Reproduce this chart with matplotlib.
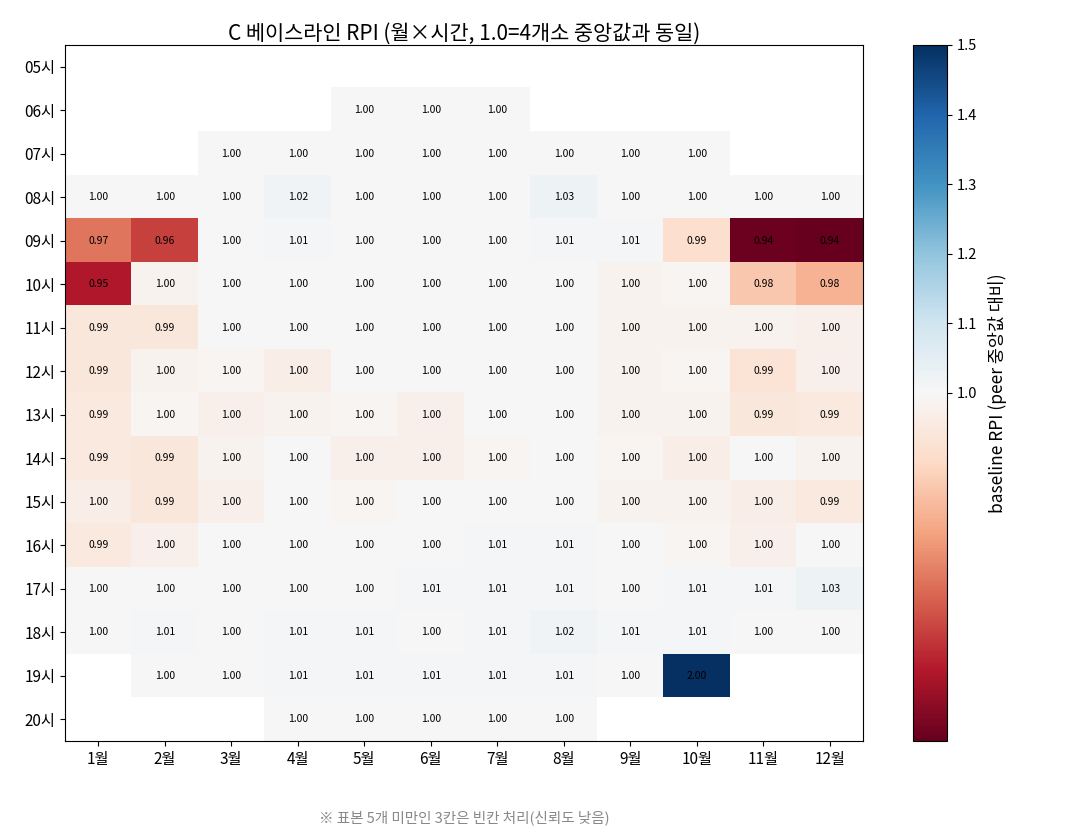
import numpy as np
import matplotlib
matplotlib.use("Agg")
import matplotlib.pyplot as plt
from matplotlib.colors import TwoSlopeNorm

plt.rcParams['font.family'] = ['Noto Sans CJK KR', 'DejaVu Sans']
plt.rcParams['axes.unicode_minus'] = False

months = ["1월", "2월", "3월", "4월", "5월", "6월", "7월", "8월", "9월", "10월", "11월", "12월"]
hours = ["05시", "06시", "07시", "08시", "09시", "10시", "11시", "12시",
         "13시", "14시", "15시", "16시", "17시", "18시", "19시", "20시"]

n = np.nan
h05 = [n, n, n, n, n, n, n, n, n, n, n, n]
h06 = [n, n, n, n, 1.000, 1.000, 1.000, n, n, n, n, n]
h07 = [n, n, 1.000, 1.000, 1.000, 1.000, 1.000, 1.000, 1.000, 1.000, n, n]
h08 = [1.000, 1.000, 1.000, 1.018, 1.000, 1.000, 1.001, 1.026, 1.000, 1.000, 1.000, 1.000]
h09 = [0.968, 0.959, 1.000, 1.006, 1.000, 1.000, 1.001, 1.006, 1.006, 0.990, 0.941, 0.940]
h10 = [0.952, 0.998, 1.000, 1.000, 1.000, 1.000, 1.000, 1.000, 0.998, 0.999, 0.984, 0.979]
h11 = [0.993, 0.993, 1.000, 1.000, 1.000, 1.000, 1.000, 1.000, 0.998, 0.998, 0.998, 0.997]
h12 = [0.993, 0.998, 0.999, 0.996, 1.000, 1.000, 1.000, 1.002, 0.998, 0.999, 0.992, 0.997]
h13 = [0.994, 0.999, 0.997, 0.998, 0.999, 0.997, 1.000, 1.000, 0.998, 0.998, 0.993, 0.994]
h14 = [0.994, 0.993, 0.998, 1.000, 0.997, 0.997, 0.999, 1.000, 0.999, 0.996, 1.000, 0.998]
h15 = [0.996, 0.993, 0.997, 1.000, 0.999, 1.000, 1.000, 1.000, 0.998, 0.998, 0.996, 0.994]
h16 = [0.994, 0.997, 1.000, 1.000, 1.001, 1.001, 1.006, 1.006, 1.000, 0.999, 0.997, 1.000]
h17 = [1.001, 1.000, 1.000, 1.000, 1.001, 1.006, 1.006, 1.007, 1.000, 1.006, 1.006, 1.026]
h18 = [1.001, 1.006, 1.000, 1.006, 1.006, 1.003, 1.006, 1.016, 1.006, 1.008, 1.000, 1.000]
h19 = [n, 1.000, 1.000, 1.006, 1.007, 1.009, 1.008, 1.007, 1.000, 2.000, n, n]
h20 = [n, n, n, 1.000, 1.000, 1.000, 1.000, 1.000, n, n, n, n]

data = np.array([h05, h06, h07, h08, h09, h10, h11, h12,
                 h13, h14, h15, h16, h17, h18, h19, h20], dtype=float)

fig = plt.figure(figsize=(10.8, 8.4), dpi=100)
ax = fig.add_axes([65/1080, 99/840, 798/1080, 696/840])
cax = fig.add_axes([913/1080, 99/840, 34/1080, 696/840])

cmap = plt.get_cmap("RdBu").copy()
cmap.set_bad("white")
norm = TwoSlopeNorm(vmin=np.nanmin(data), vcenter=1.0, vmax=1.5)
im = ax.imshow(np.ma.masked_invalid(data), cmap=cmap, norm=norm, aspect="auto",
               interpolation="nearest")

for i in range(data.shape[0]):
    for j in range(data.shape[1]):
        v = data[i, j]
        if not np.isnan(v):
            ax.text(j, i, f"{v:.2f}", ha="center", va="center", fontsize=7.5, color="black")

ax.set_xticks(range(len(months)))
ax.set_xticklabels(months, fontsize=11)
ax.set_yticks(range(len(hours)))
ax.set_yticklabels(hours, fontsize=11)
ax.set_title("C 베이스라인 RPI (월×시간, 1.0=4개소 중앙값과 동일)", fontsize=15, pad=4)

cb = fig.colorbar(im, cax=cax)
cb.set_ticks([1.0, 1.1, 1.2, 1.3, 1.4, 1.5])
cb.set_ticklabels(["1.0", "1.1", "1.2", "1.3", "1.4", "1.5"])
cb.ax.tick_params(labelsize=10.5)
cb.set_label("baseline RPI (peer 중앙값 대비)", fontsize=12.5, labelpad=8)

fig.text(464/1080, 22/840, "※ 표본 5개 미만인 3칸은 빈칸 처리(신뢰도 낮음)",
         ha="center", va="center", fontsize=10.5, color="#888888")

fig.savefig("out.png", dpi=100)
